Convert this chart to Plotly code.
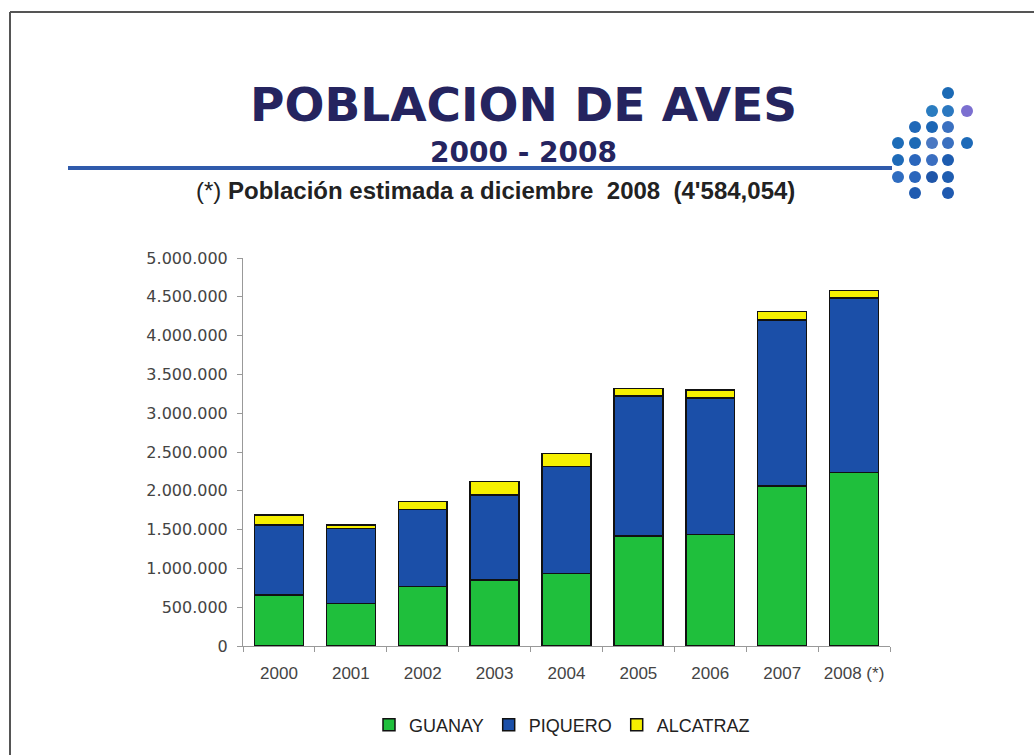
import plotly.graph_objects as go

years = ["2000", "2001", "2002", "2003", "2004", "2005", "2006", "2007", "2008 (*)"]
guanay = [657000, 550000, 764000, 850000, 937000, 1418000, 1434000, 2062000, 2234000]
piquero = [902000, 967000, 997000, 1096000, 1374000, 1804000, 1762000, 2139000, 2250000]
alcatraz = [129000, 42000, 99000, 171000, 172000, 99000, 103000, 107000, 100000]
series_names = ["GUANAY", "PIQUERO", "ALCATRAZ"]
series_colors = ["#1fbf3c", "#1b4fa8", "#f6f000"]
y_ticks = [0, 500000, 1000000, 1500000, 2000000, 2500000, 3000000, 3500000, 4000000, 4500000, 5000000]

W, H = 1035, 755
L, R, T, B = 243, 890, 258, 646


def px(x):
    return (x - L) / (R - L)


def py(y):
    return (B - y) / (B - T)


fig = go.Figure()
for name, vals, col in zip(series_names, [guanay, piquero, alcatraz], series_colors):
    fig.add_trace(go.Bar(x=years, y=vals, name=name, marker=dict(color=col, line=dict(color="#111111", width=1.5))))

shapes = []
# page frame (top & left)
shapes.append(dict(type="line", xref="paper", yref="paper", x0=px(10), x1=px(1034), y0=py(12), y1=py(12),
                   line=dict(color="#555555", width=2)))
shapes.append(dict(type="line", xref="paper", yref="paper", x0=px(10), x1=px(10), y0=py(12), y1=py(755),
                   line=dict(color="#555555", width=2)))
# blue rule under title
shapes.append(dict(type="line", xref="paper", yref="paper", x0=px(68), x1=px(892), y0=py(168), y1=py(168),
                   line=dict(color="#2f5aab", width=4)))
# decorative dots
dots = [
    (948, 93, "#1b6ab5"),
    (932, 111, "#2a7cc0"), (948, 111, "#2b78c0"), (967, 111, "#7b6fd0"),
    (915, 127, "#1f68b8"), (932, 127, "#1b66b5"), (948, 127, "#3a70c0"),
    (898, 143, "#1d6cb8"), (915, 143, "#1c6ab6"), (932, 143, "#4a78c2"), (948, 143, "#3a70c0"), (967, 143, "#1d6ab8"),
    (898, 160, "#1e6ab8"), (915, 160, "#2a66bc"), (932, 160, "#3a6ec0"), (948, 160, "#1d5cb0"),
    (898, 177, "#2f6cc0"), (915, 177, "#2a66bc"), (932, 177, "#1f55a8"), (948, 177, "#1f5db0"),
    (915, 193, "#1f5bb0"), (948, 193, "#1f5ab0"),
]
r = 6
for (cx, cy, c) in dots:
    shapes.append(dict(type="circle", xref="paper", yref="paper", x0=px(cx - r), x1=px(cx + r),
                       y0=py(cy + r), y1=py(cy - r), fillcolor=c, line=dict(width=0)))

annotations = [
    dict(text="<b>POBLACION DE AVES</b>", xref="paper", yref="paper", x=px(523), y=py(104), showarrow=False,
         xanchor="center", yanchor="middle", font=dict(family="DejaVu Sans", size=47, color="#25245f")),
    dict(text="<b>2000 - 2008</b>", xref="paper", yref="paper", x=px(523), y=py(152), showarrow=False,
         xanchor="center", yanchor="middle", font=dict(family="DejaVu Sans", size=28, color="#25245f")),
    dict(text="(*) <b>Población estimada a diciembre  2008  (4'584,054)</b>", xref="paper", yref="paper",
         x=px(495), y=py(190), showarrow=False, xanchor="center", yanchor="middle",
         font=dict(family="Liberation Sans Narrow, Arial Narrow, Liberation Sans", size=24, color="#222222")),
]

fig.update_layout(
    width=W, height=H,
    margin=dict(l=L, r=W - R, t=T, b=H - B, pad=0),
    barmode="stack",
    bargap=0.32,
    paper_bgcolor="white",
    plot_bgcolor="white",
    separators=",.",
    showlegend=True,
    legend=dict(orientation="h", x=px(562), y=py(725), xanchor="center", yanchor="middle",
                font=dict(family="Liberation Sans Narrow, Arial Narrow, Liberation Sans", size=18, color="#222222"),
                itemwidth=30, traceorder="normal", tracegroupgap=0),
    font=dict(family="DejaVu Sans, Liberation Sans", size=16, color="#444444"),
    shapes=shapes,
    annotations=annotations,
)
fig.update_yaxes(range=[0, 5000000], tickvals=y_ticks, tickformat=",d", showgrid=False, zeroline=False,
                 showline=True, linecolor="#999999", linewidth=1, ticks="outside", ticklen=5,
                 tickcolor="#999999", tickfont=dict(family="DejaVu Sans", size=16, color="#444444"),
                 ticklabelstandoff=6)
fig.update_xaxes(showgrid=False, showline=True, linecolor="#999999", linewidth=1, ticks="outside",
                 tickson="boundaries", ticklen=5, tickcolor="#999999", tickangle=0,
                 tickfont=dict(family="Liberation Sans, Arial", size=17, color="#444444"),
                 ticklabelstandoff=12)

fig.write_html("out.html")
